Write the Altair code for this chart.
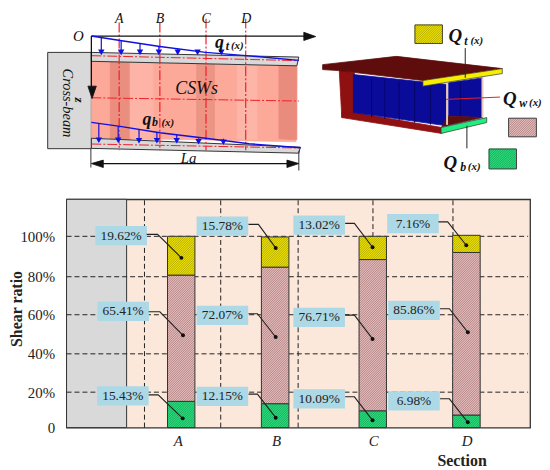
import altair as alt
import numpy as np
import pandas as pd

FONT = "Liberation Serif"

# ---- chart values ----
sections = ["A", "B", "C", "D"]
section_ticks = [178, 277, 375, 469]
bar_left = [167.7, 262.3, 360.7, 455]
bar_right = [195.3, 290, 388.3, 482.7]
flange_bottom_top = [14.8, 13.5, 9.5, 7.1]
web_top = [80.8, 84.75, 88.5, 92]
flange_top_top = [100, 99.7, 100, 100.5]
BASE_Y, BASE_P, BASE_G = "#ece000", "#e4bcbc", "#2edb7c"
HATCH_Y, HATCH_P, HATCH_G = "#a09800", "#a06c6c", "#0a9c50"

labels_top = ["19.62%", "15.78%", "13.02%", "7.16%"]
labels_web = ["65.41%", "72.07%", "76.71%", "85.86%"]
labels_bot = ["15.43%", "12.15%", "10.09%", "6.98%"]

percent_ticks = [0, 20, 40, 60, 80, 100, 118.4]
tick_px = [427, 391.3, 352.7, 313.3, 275, 234.3, 197]
vgrid = [144.5, 221.3, 299.3, 374.7, 455.3]


def yv(p):
    return float(np.interp(-p, [-t for t in tick_px], percent_ticks))


def ypx(v):
    return float(np.interp(v, percent_ticks, tick_px))


def hatch_segments(x0, x1, ytop, ybot, step=2.3):
    """Clip 45-degree hatch lines to a rectangle given in picture units."""
    segs = []
    c = ytop + x0 + step / 2
    while c < ybot + x1:
        # line: y = c - x
        ax = max(x0, c - ybot)
        bx = min(x1, c - ytop)
        segs.append((ax, c - ax, bx, c - bx))
        c += step
    return segs


# label boxes: (centre x, centre y, text)
boxes = [
    (121, 233.7, labels_top[0]), (123, 310, labels_web[0]), (122.7, 395, labels_bot[0]),
    (223, 224, labels_top[1]), (223, 314, labels_web[1]), (223, 395.5, labels_bot[1]),
    (320.5, 223, labels_top[2]), (320.5, 316, labels_web[2]), (320.5, 398, labels_bot[2]),
    (415, 221.5, labels_top[3]), (416, 309, labels_web[3]), (416, 400, labels_bot[3]),
]
# leaders: start, elbow, dot
leaders = [
    [(146.7, 232.3), (157.7, 232.3), (181.7, 256)],
    [(148.7, 310.3), (160, 310.3), (183.3, 334)],
    [(148.7, 394), (158.3, 394), (183, 417.7)],
    [(249.3, 222.3), (259.3, 222.3), (276.7, 246)],
    [(249.3, 312.3), (258.3, 312.3), (276.7, 335.7)],
    [(249.3, 393.3), (258.3, 393.3), (276.7, 417)],
    [(346.7, 221.3), (356, 221.3), (374.3, 245.3)],
    [(346.7, 313.7), (356, 313.7), (374.3, 337.7)],
    [(346.7, 396), (356, 396), (374.3, 419.7)],
    [(440.7, 219.7), (450, 219.7), (468.7, 243.3)],
    [(442.3, 307.3), (451.7, 307.3), (470.3, 331)],
    [(442.3, 398), (451.7, 398), (470.3, 421.7)],
]

# ---- lower panel ----
sx2 = alt.Scale(domain=[66, 533], nice=False, zero=False)
sy2 = alt.Scale(domain=percent_ticks, range=[t - 197 for t in tick_px], nice=False, zero=False)
label_expr = "{" + ",".join(f"{t}:'{s}'" for t, s in zip(section_ticks, sections)) + "}[datum.value]"
x_axis = alt.Axis(
    values=section_ticks, labelExpr=label_expr, grid=False, domain=False, ticks=False,
    labelFont=FONT, labelFontStyle="italic", labelFontSize=15, labelColor="#222",
    labelPadding=6, titleFont=FONT, titleFontSize=16, titleFontWeight="bold",
    titleColor="#222", titleX=398, titleY=25, labelFlush=False, labelOverlap=False)
y_axis = alt.Axis(
    values=[0, 20, 40, 60, 80, 100], labelExpr="datum.value==0?'0':datum.value+'%'",
    grid=False, domain=False, ticks=False, labelFont=FONT, labelFontSize=15, labelColor="#222",
    labelPadding=12, titleFont=FONT, titleFontSize=16, titleFontWeight="bold", titleColor="#222",
    titleX=-42, titleY=110, labelOverlap=False)


def X2(f="x"):
    return alt.X(f"{f}:Q", scale=sx2, axis=x_axis, title="Section")


def Y2(f="y"):
    return alt.Y(f"{f}:Q", scale=sy2, axis=y_axis, title="Shear ratio")


layers = []
# grey region
layers.append(alt.Chart(pd.DataFrame({"x": [66], "x2": [126.5], "y": [0], "y2": [118.4]})).mark_rect(
    fill="#d9d9d9", stroke="#333", strokeWidth=1).encode(x=X2(), x2="x2:Q", y=Y2(), y2="y2:Q"))
# grid
layers.append(alt.Chart(pd.DataFrame({"y": [20, 40, 60, 80, 100], "x": [66] * 5, "x2": [531] * 5})).mark_rule(
    stroke="#222", strokeWidth=1, strokeDash=[5, 3]).encode(x=X2(), x2="x2:Q", y=Y2()))
layers.append(alt.Chart(pd.DataFrame({"x": vgrid, "y": [0] * 5, "y2": [118.4] * 5})).mark_rule(
    stroke="#222", strokeWidth=1, strokeDash=[5, 3]).encode(x=X2(), y=Y2(), y2="y2:Q"))
# bars
for lo, hi, col, hc in [([0] * 4, flange_bottom_top, BASE_G, HATCH_G),
                        (flange_bottom_top, web_top, BASE_P, HATCH_P),
                        (web_top, flange_top_top, BASE_Y, HATCH_Y)]:
    df = pd.DataFrame({"x": bar_left, "x2": bar_right, "y": lo, "y2": hi, "section": sections})
    layers.append(alt.Chart(df).mark_rect(fill=col).encode(
        x=X2(), x2="x2:Q", y=Y2(), y2="y2:Q", detail="section:N"))
    segs = []
    for a, b, l, h in zip(bar_left, bar_right, lo, hi):
        for ax, ay, bx, by in hatch_segments(a, b, ypx(h), ypx(l)):
            segs.append({"x": ax, "y": yv(ay), "x2": bx, "y2": yv(by)})
    layers.append(alt.Chart(pd.DataFrame(segs)).mark_rule(stroke=hc, strokeWidth=0.7).encode(
        x=X2(), x2="x2:Q", y=Y2(), y2="y2:Q"))
    layers.append(alt.Chart(df).mark_rect(fill="transparent", stroke="#333", strokeWidth=1).encode(
        x=X2(), x2="x2:Q", y=Y2(), y2="y2:Q", detail="section:N"))
# boxes
bdf = pd.DataFrame({
    "x": [b[0] - 26 for b in boxes], "x2": [b[0] + 26 for b in boxes],
    "y": [yv(b[1] + 9.7) for b in boxes], "y2": [yv(b[1] - 9.7) for b in boxes],
    "xc": [b[0] for b in boxes], "yc": [yv(b[1]) for b in boxes], "label": [b[2] for b in boxes]})
layers.append(alt.Chart(bdf).mark_rect(fill="#add8e6").encode(x=X2(), x2="x2:Q", y=Y2(), y2="y2:Q"))
layers.append(alt.Chart(bdf).mark_text(font=FONT, fontSize=13.5, color="#222", baseline="middle").encode(
    x=X2("xc"), y=Y2("yc"), text="label:N"))
# leaders
rows = []
for k, pts in enumerate(leaders):
    for i, (a, b) in enumerate(pts):
        rows.append({"k": k, "i": i, "x": a, "y": yv(b)})
ldf = pd.DataFrame(rows)
layers.append(alt.Chart(ldf).mark_line(stroke="#222", strokeWidth=1.1).encode(
    x=X2(), y=Y2(), detail="k:N", order="i:Q"))
layers.append(alt.Chart(ldf[ldf.i == 2]).mark_point(filled=True, color="#111", size=16, opacity=1).encode(x=X2(), y=Y2()))

lower = alt.layer(*layers).properties(
    width=467, height=230, view=alt.ViewBackground(fill="#fce8da", stroke="#333", strokeWidth=1.3))

# ---- upper panel: schematic, in picture units ----
sx1 = alt.Scale(domain=[66, 533], nice=False, zero=False)
sy1 = alt.Scale(domain=[190, 8], nice=False, zero=False)
X1 = alt.X("x:Q", scale=sx1, axis=None)
Y1 = alt.Y("y:Q", scale=sy1, axis=None)
top = []


def poly(pts, fill, stroke=None, sw=0.8):
    df = pd.DataFrame({"x": [p[0] for p in pts], "y": [p[1] for p in pts], "i": range(len(pts))})
    kw = dict(interpolate="linear-closed", fill=fill, strokeWidth=sw)
    kw["stroke"] = stroke if stroke else fill
    top.append(alt.Chart(df).mark_line(**kw).encode(x=X1, y=Y1, order="i:Q"))


def line(pts, stroke, sw=1.2, dash=None):
    df = pd.DataFrame({"x": [p[0] for p in pts], "y": [p[1] for p in pts], "i": range(len(pts))})
    kw = dict(stroke=stroke, strokeWidth=sw)
    if dash:
        kw["strokeDash"] = dash
    top.append(alt.Chart(df).mark_line(**kw).encode(x=X1, y=Y1, order="i:Q"))


def text(x, y, s, size=14, style="normal", weight="normal", angle=0, color="#111", align="center"):
    df = pd.DataFrame({"x": [x], "y": [y], "t": [s]})
    top.append(alt.Chart(df).mark_text(font=FONT, fontSize=size, fontStyle=style, fontWeight=weight, angle=angle,
                                       color=color, align=align, baseline="middle").encode(x=X1, y=Y1, text="t:N"))


def heads(xs, ys, col="#1010e0", size=42):
    df = pd.DataFrame({"x": xs, "y": ys})
    top.append(alt.Chart(df).mark_point(shape="triangle-down", filled=True, color=col, size=size, opacity=1).encode(x=X1, y=Y1))


def patch(x0, x1, y0, y1, base, hc):
    poly([(x0, y0), (x1, y0), (x1, y1), (x0, y1)], base)
    df = pd.DataFrame([{"x": a, "y": b, "x2": c, "y2": d} for a, b, c, d in hatch_segments(x0, x1, y0, y1)])
    top.append(alt.Chart(df).mark_rule(stroke=hc, strokeWidth=0.7).encode(x=X1, y=Y1, x2="x2:Q", y2="y2:Q"))
    line([(x0, y0), (x1, y0), (x1, y1), (x0, y1), (x0, y0)], "#444", 1)


# cross-beam
poly([(47, 51), (91, 51), (91, 148), (47, 148)], "#d9d9d9", "#333", 1)
# web and bands
poly([(91, 60), (298, 65), (297, 141), (91, 137)], "#fda99a")
for a, b, c in [(110, 130, "#ea8f80"), (197, 215, "#ec9585"), (280, 298, "#e98c7d"), (130, 153, "#fdb3a5"), (238, 258, "#fdb5a8")]:
    poly([(a, 60.5), (b, 61), (b, 139), (a, 138)], c)
# flanges
poly([(91, 51), (300, 55.7), (298, 64.5), (91, 60)], "#d9d9d9", "#333", 1)
poly([(91, 137.5), (301.5, 146.5), (300, 152.5), (91, 147.7)], "#d9d9d9", "#333", 1)
# red lines
for x, y0 in [(119, 21), (160, 21), (206.5, 17), (246.5, 17)]:
    line([(x, y0), (x, 149.5)], "#f0202a", 1.2, [10, 2, 2, 2])
line([(91, 54.3), (300, 59.3)], "#f0202a", 1, [10, 2, 2, 2])
line([(91, 96.7), (300, 100)], "#f0202a", 1, [10, 2, 2, 2])
line([(91, 143.3), (301, 147.3)], "#f0202a", 1, [10, 2, 2, 2])
# axes
line([(91, 34.5), (312, 34.5)], "#111", 1.3)
line([(91, 34.5), (91, 90)], "#111", 1.3)
poly([(305, 30.7), (317, 35), (305, 39)], "#111")
poly([(87.5, 85), (96, 85), (91.7, 97.5)], "#111")
# blue load
line([(91, 34.5), (120, 39), (160, 45), (206, 51), (250, 54.5), (300, 59)], "#1010e0", 1.4)
line([(91, 121.5), (120, 125.5), (160, 132), (206, 137.5), (250, 143), (302, 147)], "#1010e0", 1.4)
top_x = [101, 121, 140, 159, 178, 198, 222]
top_y = [36, 39, 42, 45, 47, 49.5, 52]
bot_x = [98.5, 118, 139, 157, 177, 199, 224]
bot_y = [122.5, 125.5, 129, 131.5, 134, 137, 140]
for x, y in zip(top_x, top_y):
    line([(x, y), (x, 50)], "#1010e0", 1.2)
for x, y in zip(bot_x, bot_y):
    line([(x, y), (x, 138)], "#1010e0", 1.2)
heads(top_x, [51] * 7)
heads(bot_x, [139.5, 139.5, 140, 140, 140, 141, 141.5])
# dimension
line([(90.5, 148), (90.5, 167)], "#333", 1)
line([(300, 150), (300, 170)], "#333", 1)
line([(95, 163), (295, 163)], "#111", 1.2)
poly([(91, 163), (103, 159.5), (103, 167)], "#111")
poly([(300, 163), (288, 159.5), (288, 167)], "#111")
# schematic labels
for x, s in zip([119, 160, 206.5, 247], sections):
    text(x, 17, s, 14, "italic")
text(78, 35, "O", 15, "italic")
text(197, 88, "CSWs", 18, "italic")
text(189, 157, "La", 15, "italic")
text(66, 102, "Cross-beam", 14.5, "italic", angle=90)
text(78.5, 99, "z", 13, "italic", "bold", angle=90)
text(220, 42, "q", 18, "italic", "bold")
text(228, 45, "t", 12, "italic", "bold")
text(238, 45, "(x)", 11, "italic", "bold")
text(147, 119, "q", 18, "italic", "bold")
text(155, 121, "b", 12, "italic", "bold")
text(168, 122, "(x)", 11, "italic", "bold")

# 3D girder
OX = 320


def z(pts):
    return [(OX + a / 3, b / 3) for a, b in pts]


poly(z([(62, 205), (108, 215), (108, 335), (70, 350)]), "#8f1010")
poly(z([(70, 335), (108, 335), (372, 380), (372, 398), (70, 350)]), "#8f1010")
poly(z([(105, 220), (388, 250), (388, 375), (105, 335)]), "#0b0b9a")
for a in [160, 200, 243, 290, 338]:
    line(z([(a, 228 + (a - 105) / 12), (a, 342 + (a - 105) / 8)]), "#05056a", 1)
poly(z([(393, 245), (495, 230), (495, 350), (393, 345)]), "#0b0b9a")
line(z([(428, 240), (428, 348)]), "#05056a", 1)
poly(z([(390, 345), (495, 350), (372, 378)]), "#5a1010")
poly(z([(12, 190), (235, 165), (555, 202), (315, 238), (60, 208), (12, 205)]), "#5e0c0c")
poly(z([(315, 238), (555, 202), (555, 217), (315, 255)]), "#f6ee00", "#333", 0.7)
poly(z([(370, 380), (508, 350), (508, 365), (370, 398)]), "#22ee80", "#333", 0.7)
line(z([(388, 245), (388, 372)]), "#e8c8b8", 2)
line(z([(495, 230), (495, 350)]), "#e8c8b8", 2)
line(z([(443, 140), (443, 230)]), "#222", 1)
line(z([(385, 295), (548, 288)]), "#e0202a", 1)
line(z([(448, 375), (448, 443)]), "#222", 1)
patch(OX + 291 / 3, OX + 374 / 3, 70 / 3, 126 / 3, BASE_Y, HATCH_Y)
patch(OX + 574 / 3, OX + 658 / 3, 352 / 3, 408 / 3, BASE_P, HATCH_P)
patch(OX + 515 / 3, OX + 598 / 3, 445 / 3, 505 / 3, BASE_G, HATCH_G)
text(OX + 413 / 3, 35, "Q", 19, "italic", "bold")
text(OX + 445 / 3, 40, "t", 12, "italic", "bold")
text(OX + 478 / 3, 39.5, "(x)", 11, "italic", "bold")
text(OX + 578 / 3, 98, "Q", 19, "italic", "bold")
text(OX + 618 / 3, 102, "w", 12, "italic", "bold")
text(OX + 655 / 3, 102.5, "(x)", 11, "italic", "bold")
text(OX + 398 / 3, 162, "Q", 19, "italic", "bold")
text(OX + 437 / 3, 166, "b", 12, "italic", "bold")
text(OX + 470 / 3, 166, "(x)", 11, "italic", "bold")

upper = alt.layer(*top).properties(width=467, height=182, view=alt.ViewBackground(stroke=None))

chart = alt.vconcat(upper, lower, spacing=7).properties(padding=0, background="white").resolve_scale(
    x="independent", y="independent")
chart.save("out.html", embed_options={"renderer": "svg", "actions": False})
